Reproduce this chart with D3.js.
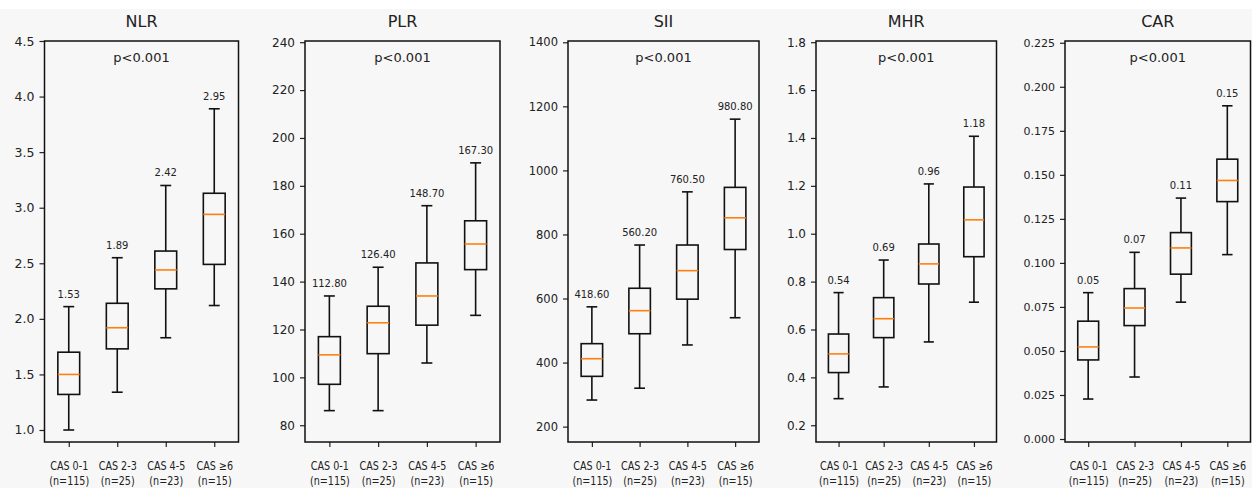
<!DOCTYPE html>
<html>
<head>
<meta charset="utf-8">
<script src="https://cdn.jsdelivr.net/npm/d3@7"></script>
<style>
body{margin:0;background:#fff;}
text{font-family:"DejaVu Sans",sans-serif;fill:#222;}
</style>
</head>
<body>
<script>
// groups on the x axis
const categories=['CAS 0-1','CAS 2-3','CAS 4-5','CAS ≥6'];
const groupSizes=['(n=115)','(n=25)','(n=23)','(n=15)'];
const pText='p<0.001';

// box stats: [low whisker, q1, median, q3, high whisker]
const nlrBoxes=[[1.00,1.32,1.50,1.70,2.11],[1.34,1.73,1.92,2.14,2.55],[1.83,2.27,2.44,2.61,3.20],[2.12,2.49,2.94,3.13,3.89]];
const nlrMeans=['1.53','1.89','2.42','2.95'];
const nlrTicks=[1.0,1.5,2.0,2.5,3.0,3.5,4.0,4.5];

const plrBoxes=[[86.1,97.1,109.4,117.0,134.0],[86.1,109.9,122.8,129.7,146.0],[106.0,121.8,134.0,147.8,171.7],[125.9,145.0,155.7,165.4,189.6]];
const plrMeans=['112.80','126.40','148.70','167.30'];
const plrTicks=[80,100,120,140,160,180,200,220,240];

const siiBoxes=[[283,357,412,459,574],[320,490,562,632,767],[455,598,687,767,933],[540,753,852,947,1160]];
const siiMeans=['418.60','560.20','760.50','980.80'];
const siiTicks=[200,400,600,800,1000,1200,1400];

const mhrBoxes=[[0.311,0.420,0.498,0.581,0.754],[0.360,0.566,0.645,0.733,0.890],[0.548,0.790,0.874,0.957,1.208],[0.714,0.904,1.058,1.195,1.407]];
const mhrMeans=['0.54','0.69','0.96','1.18'];
const mhrTicks=[0.2,0.4,0.6,0.8,1.0,1.2,1.4,1.6,1.8];

const carBoxes=[[0.0227,0.0449,0.0523,0.0669,0.0831],[0.0352,0.0644,0.0744,0.0854,0.1060],[0.0777,0.0936,0.1085,0.1172,0.1368],[0.1047,0.1348,0.1468,0.1589,0.1892]];
const carMeans=['0.05','0.07','0.11','0.15'];
const carTicks=[0,0.025,0.05,0.075,0.1,0.125,0.15,0.175,0.2,0.225];

const W=1252,H=488,plotTop=41,plotBottom=442;
const panels=[
  {title:'NLR',boxes:nlrBoxes,means:nlrMeans,ticks:nlrTicks,fmt:'.1f',dom:[0.892,4.5],left:44.5,right:238.5,fs:12.5},
  {title:'PLR',boxes:plrBoxes,means:plrMeans,ticks:plrTicks,fmt:'d',dom:[73,240.5],left:305,right:500,fs:12},
  {title:'SII',boxes:siiBoxes,means:siiMeans,ticks:siiTicks,fmt:'d',dom:[152,1404],left:568,right:759,fs:11.5},
  {title:'MHR',boxes:mhrBoxes,means:mhrMeans,ticks:mhrTicks,fmt:'.1f',dom:[0.13,1.805],left:816,right:996.5,fs:12},
  {title:'CAR',boxes:carBoxes,means:carMeans,ticks:carTicks,fmt:'.3f',dom:[-0.0017,0.226],left:1065,right:1250.5,fs:11}
];

const svg=d3.select('body').append('svg').attr('width',W).attr('height',H);
svg.append('rect').attr('width',W).attr('height',H).attr('fill','#fff');
svg.append('rect').attr('y',9).attr('width',W).attr('height',H-9).attr('fill','#f7f7f7');

panels.forEach(p=>{
  const g=svg.append('g');
  const x=d3.scaleLinear().domain([0.5,4.5]).range([p.left,p.right]);
  const y=d3.scaleLinear().domain(p.dom).range([plotBottom,plotTop]);
  const hw=0.225, cw=0.1125;

  const gy=g.append('g').attr('transform',`translate(${p.left},0)`)
    .call(d3.axisLeft(y).tickValues(p.ticks).tickFormat(d3.format(p.fmt)).tickSize(5).tickSizeOuter(0).tickPadding(5));
  gy.select('.domain').remove();
  gy.selectAll('.tick line').attr('stroke','#222').attr('stroke-width',1.2);
  gy.selectAll('.tick text').attr('font-size',p.fs).attr('font-family','DejaVu Sans').attr('fill','#222');

  const gx=g.append('g').attr('transform',`translate(0,${plotBottom})`)
    .call(d3.axisBottom(x).tickValues([1,2,3,4]).tickSize(5).tickSizeOuter(0));
  gx.select('.domain').remove();
  gx.selectAll('.tick line').attr('stroke','#222').attr('stroke-width',1.2);
  gx.selectAll('.tick text').each(function(d){
    const t=d3.select(this);
    t.text(null).attr('dy',null).attr('y',null);
    t.append('tspan').attr('x',0).attr('y',28).text(categories[d-1]);
    t.append('tspan').attr('x',0).attr('y',43.2).text(groupSizes[d-1]);
  }).attr('font-size',12).attr('font-family','DejaVu Sans').attr('fill','#222').attr('transform','scale(0.8,1)');

  g.append('rect').attr('x',p.left).attr('y',plotTop).attr('width',p.right-p.left).attr('height',plotBottom-plotTop)
    .attr('fill','none').attr('stroke','#111').attr('stroke-width',1.5);

  const b=g.selectAll('.box').data(p.boxes).enter().append('g').attr('class','box');
  const sc='#111', sw=1.6;
  // whiskers
  b.append('line').attr('x1',(d,i)=>x(i+1)).attr('x2',(d,i)=>x(i+1)).attr('y1',d=>y(d[0])).attr('y2',d=>y(d[1])).attr('stroke',sc).attr('stroke-width',sw);
  b.append('line').attr('x1',(d,i)=>x(i+1)).attr('x2',(d,i)=>x(i+1)).attr('y1',d=>y(d[3])).attr('y2',d=>y(d[4])).attr('stroke',sc).attr('stroke-width',sw);
  // caps
  [0,4].forEach(k=>{
    b.append('line').attr('x1',(d,i)=>x(i+1-cw)).attr('x2',(d,i)=>x(i+1+cw)).attr('y1',d=>y(d[k])).attr('y2',d=>y(d[k])).attr('stroke',sc).attr('stroke-width',sw);
  });
  // box
  b.append('rect').attr('x',(d,i)=>x(i+1-hw)).attr('width',(d,i)=>x(i+1+hw)-x(i+1-hw))
    .attr('y',d=>y(d[3])).attr('height',d=>y(d[1])-y(d[3]))
    .attr('fill','none').attr('stroke',sc).attr('stroke-width',sw);
  // median
  b.append('line').attr('x1',(d,i)=>x(i+1-hw)).attr('x2',(d,i)=>x(i+1+hw)).attr('y1',d=>y(d[2])).attr('y2',d=>y(d[2])).attr('stroke','#ff7f0e').attr('stroke-width',1.6);
  // mean labels
  b.append('text').attr('x',(d,i)=>x(i+1)).attr('y',d=>y(d[4])-9).attr('text-anchor','middle').attr('font-size',10)
    .text((d,i)=>p.means[i]);

  const cx=(p.left+p.right)/2;
  g.append('text').attr('x',cx).attr('y',61.5).attr('text-anchor','middle').attr('font-size',13).text(pText);
  g.append('text').attr('x',cx).attr('y',27).attr('text-anchor','middle').attr('font-size',16).text(p.title);
});
</script>
</body>
</html>
